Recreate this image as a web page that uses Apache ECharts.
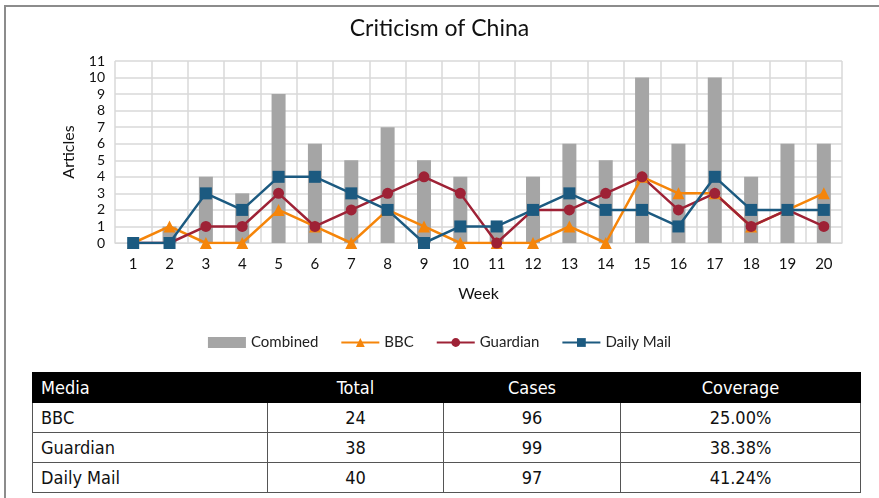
<!DOCTYPE html>
<html><head><meta charset="utf-8">
<script src="https://cdn.jsdelivr.net/npm/echarts@6/dist/echarts.min.js"></script>
<style>
html,body{margin:0;padding:0;background:#fff;}
#wrap{position:relative;width:879px;height:498px;overflow:hidden;}
#frame{position:absolute;left:4px;top:5px;width:900px;height:520px;border-left:2px solid #8c8c8c;border-top:2px solid #8c8c8c;box-sizing:border-box;}
#chart{position:absolute;left:0;top:0;width:879px;height:370px;}
#tbl{position:absolute;left:32px;top:372px;border-collapse:collapse;font-family:"DejaVu Sans Condensed","DejaVu Sans",sans-serif;font-size:18px;color:#111;}
#tbl td,#tbl th{border:1px solid #555;padding:0 8px;height:29px;font-weight:normal;}
#tbl th{background:#000;color:#fff;border-color:#000;}
</style></head>
<body><div id="wrap"><div id="frame"></div><div id="chart"></div><table id="tbl"></table></div>
<script>
const weeks = ['1','2','3','4','5','6','7','8','9','10','11','12','13','14','15','16','17','18','19','20'];
const combined = [0,1,4,3,9,6,5,7,5,4,1,4,6,5,10,6,10,4,6,6];
const bbc      = [0,1,0,0,2,1,0,2,1,0,0,0,1,0,4,3,3,1,2,3];
const guardian = [0,0,1,1,3,1,2,3,4,3,0,2,2,3,4,2,3,1,2,1];
const dailyMail= [0,0,3,2,4,4,3,2,0,1,1,2,3,2,2,1,4,2,2,2];
const tableHead = ['Media','Total','Cases','Coverage'];
const tableRows = [
  ['BBC','24','96','25.00%'],
  ['Guardian','38','99','38.38%'],
  ['Daily Mail','40','97','41.24%']
];

const font = 'Lato, "Open Sans", sans-serif';
const chart = echarts.init(document.getElementById('chart'), null, {renderer:'canvas'});
chart.setOption({
  animation:false,
  title:{text:'Criticism of China',left:'center',top:12,textStyle:{fontFamily:font,fontSize:23,fontWeight:'normal',color:'#111'}},
  grid:{left:115,right:37,top:61,bottom:127},
  legend:{bottom:15,left:'center',itemGap:22,itemWidth:38,itemHeight:11,textStyle:{fontFamily:font,fontSize:15,color:'#222'},
    data:[{name:'Combined',icon:'rect'},{name:'BBC'},{name:'Guardian'},{name:'Daily Mail'}]},
  xAxis:{type:'category',data:weeks,name:'Week',nameLocation:'middle',nameGap:43,
    nameTextStyle:{fontFamily:font,fontSize:16,color:'#111'},
    axisLine:{lineStyle:{color:'#d9d9d9'}},axisTick:{show:false},
    axisLabel:{fontFamily:font,fontSize:15,color:'#111',margin:14},
    splitLine:{show:true,interval:0,lineStyle:{color:'#d9d9d9',width:1.5}}},
  yAxis:{type:'value',min:0,max:11,interval:1,name:'Articles',nameLocation:'middle',nameGap:38,nameRotate:90,
    nameTextStyle:{fontFamily:font,fontSize:16,color:'#111'},
    axisLabel:{fontFamily:font,fontSize:14,color:'#111',margin:10},
    axisLine:{show:false},axisTick:{show:false},
    splitLine:{lineStyle:{color:'#d9d9d9',width:1.5}}},
  series:[
    {name:'Combined',type:'bar',data:combined,barWidth:14,itemStyle:{color:'#a5a5a5'}},
    {name:'BBC',type:'line',data:bbc,symbol:'triangle',symbolSize:12,lineStyle:{width:2.5,color:'#f5850a'},itemStyle:{color:'#f5850a'}},
    {name:'Guardian',type:'line',data:guardian,symbol:'circle',symbolSize:11,lineStyle:{width:2.5,color:'#9e2236'},itemStyle:{color:'#9e2236'}},
    {name:'Daily Mail',type:'line',data:dailyMail,symbol:'rect',symbolSize:12,lineStyle:{width:2.5,color:'#1c5a80'},itemStyle:{color:'#1c5a80'}}
  ]
});

const tbl = document.getElementById('tbl');
const widths = [235,176,177,240];
const aligns = ['left','center','center','center'];
let html = '<tr>' + tableHead.map((h,i)=>`<th style="width:${widths[i]-17}px;text-align:${aligns[i]}">${h}</th>`).join('') + '</tr>';
tableRows.forEach(r=>{ html += '<tr>' + r.map((c,i)=>`<td style="text-align:${aligns[i]}">${c}</td>`).join('') + '</tr>'; });
tbl.innerHTML = html;
</script></body></html>
